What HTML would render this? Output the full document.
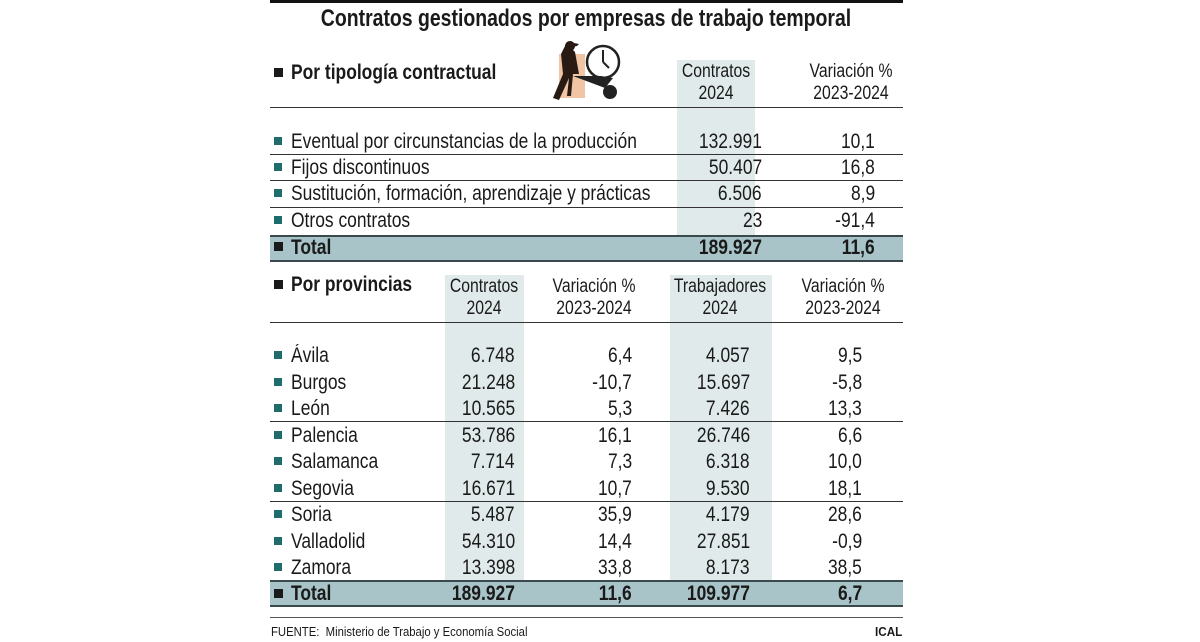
<!DOCTYPE html>
<html><head><meta charset="utf-8"><style>
body{margin:0;background:#fff;width:1200px;height:642px;position:relative;overflow:hidden;font-family:"Liberation Sans",Arial,sans-serif;color:#1a1a1a}
.t{position:absolute;white-space:nowrap;line-height:1;font-size:21px}
.l{transform-origin:left center;transform:scaleX(.83)}
.r{transform-origin:right center;transform:scaleX(.83)}
.c{transform:translateX(-50%) scaleX(.83)}
.b{font-weight:bold}
.box{position:absolute}
.sq{position:absolute;width:8px;height:8px;background:#1f6c6c}
.sqb{position:absolute;width:9px;height:9px;background:#1a1a1a}
</style></head><body>
<div class="box" style="left:270px;top:0;width:633px;height:3px;background:#111"></div>
<div class="t b" style="left:586px;top:7px;font-size:24px;transform:translateX(-50%) scaleX(.81)">Contratos gestionados por empresas de trabajo temporal</div>

<div class="box" style="left:677px;top:60px;width:78px;height:175px;background:#e0eaea"></div>
<div class="box" style="left:270px;top:235px;width:633px;height:27px;background:#a8c4c8;border-top:2px solid #3a4a4c;border-bottom:2px solid #3a4a4c;box-sizing:border-box"></div>
<div class="box" style="left:270px;top:107px;width:633px;height:1px;background:#333"></div>
<div class="box" style="left:270px;top:154px;width:633px;height:1px;background:#333"></div>
<div class="box" style="left:270px;top:180px;width:633px;height:1px;background:#333"></div>
<div class="box" style="left:270px;top:207px;width:633px;height:1px;background:#333"></div>

<svg class="box" style="left:545px;top:38px" width="85" height="66" viewBox="0 0 85 66">
<rect x="14" y="16" width="26" height="44" fill="#f0c4a4"/>
<circle cx="58" cy="24" r="16" fill="#fff" stroke="#222" stroke-width="2.5"/>
<line x1="58" y1="24" x2="58" y2="12" stroke="#222" stroke-width="2"/>
<line x1="58" y1="24" x2="64" y2="30" stroke="#222" stroke-width="2"/>
<circle cx="65" cy="54" r="7" fill="#222"/>
<path d="M28 38 L60 50 L68 40 L56 38 Z" fill="#222"/>
<path d="M20 8 a5 5 0 1 1 8 4 L30 14 L34 36 L28 36 L26 58 L22 58 L24 40 L14 62 L8 60 L18 36 L16 16 Z" fill="#2a1a14"/>
<path d="M22 10 L32 8 L34 6 L24 4 Z" fill="#2a1a14"/>
</svg>

<div class="sqb" style="left:274px;top:68px"></div>
<div class="t b l" style="left:291px;top:62px;font-size:21px">Por tipología contractual</div>
<div class="t c" style="left:716px;top:62px;font-size:19px">Contratos</div>
<div class="t c" style="left:716px;top:84px;font-size:19px">2024</div>
<div class="t c" style="left:851px;top:62px;font-size:19px">Variación %</div>
<div class="t c" style="left:851px;top:84px;font-size:19px">2023-2024</div>

<div class="sq" style="left:274px;top:137px"></div><div class="t l" style="left:291px;top:131px">Eventual por circunstancias de la producción</div>
<div class="t r" style="right:438px;top:131px">132.991</div><div class="t r" style="right:325px;top:131px">10,1</div>
<div class="sq" style="left:274px;top:163px"></div><div class="t l" style="left:291px;top:157px">Fijos discontinuos</div>
<div class="t r" style="right:438px;top:157px">50.407</div><div class="t r" style="right:325px;top:157px">16,8</div>
<div class="sq" style="left:274px;top:189px"></div><div class="t l" style="left:291px;top:183px">Sustitución, formación, aprendizaje y prácticas</div>
<div class="t r" style="right:438px;top:183px">6.506</div><div class="t r" style="right:325px;top:183px">8,9</div>
<div class="sq" style="left:274px;top:216px"></div><div class="t l" style="left:291px;top:210px">Otros contratos</div>
<div class="t r" style="right:438px;top:210px">23</div><div class="t r" style="right:325px;top:210px">-91,4</div>
<div class="sqb" style="left:274px;top:242px"></div><div class="t b l" style="left:291px;top:237px">Total</div>
<div class="t b r" style="right:438px;top:237px">189.927</div><div class="t b r" style="right:325px;top:237px">11,6</div>

<div class="box" style="left:445px;top:275px;width:79px;height:305px;background:#e0eaea"></div>
<div class="box" style="left:670px;top:275px;width:102px;height:305px;background:#e0eaea"></div>
<div class="box" style="left:270px;top:580px;width:633px;height:27px;background:#a8c4c8;border-top:2px solid #3a4a4c;border-bottom:2px solid #3a4a4c;box-sizing:border-box"></div>
<div class="box" style="left:270px;top:322px;width:633px;height:1px;background:#333"></div>
<div class="box" style="left:270px;top:421px;width:633px;height:1px;background:#333"></div>
<div class="box" style="left:270px;top:501px;width:633px;height:1px;background:#333"></div>
<div class="box" style="left:270px;top:617px;width:633px;height:1px;background:#555"></div>

<div class="sqb" style="left:274px;top:280px"></div>
<div class="t b l" style="left:291px;top:274px">Por provincias</div>
<div class="t c" style="left:484px;top:277px;font-size:19px">Contratos</div>
<div class="t c" style="left:484px;top:299px;font-size:19px">2024</div>
<div class="t c" style="left:594px;top:277px;font-size:19px">Variación %</div>
<div class="t c" style="left:594px;top:299px;font-size:19px">2023-2024</div>
<div class="t c" style="left:720px;top:277px;font-size:19px">Trabajadores</div>
<div class="t c" style="left:720px;top:299px;font-size:19px">2024</div>
<div class="t c" style="left:843px;top:277px;font-size:19px">Variación %</div>
<div class="t c" style="left:843px;top:299px;font-size:19px">2023-2024</div>

<div class="sq" style="left:274px;top:351px"></div><div class="t l" style="left:291px;top:345px">Ávila</div>
<div class="t r" style="right:685px;top:345px">6.748</div><div class="t r" style="right:568px;top:345px">6,4</div><div class="t r" style="right:450px;top:345px">4.057</div><div class="t r" style="right:338px;top:345px">9,5</div>
<div class="sq" style="left:274px;top:378px"></div><div class="t l" style="left:291px;top:372px">Burgos</div>
<div class="t r" style="right:685px;top:372px">21.248</div><div class="t r" style="right:568px;top:372px">-10,7</div><div class="t r" style="right:450px;top:372px">15.697</div><div class="t r" style="right:338px;top:372px">-5,8</div>
<div class="sq" style="left:274px;top:404px"></div><div class="t l" style="left:291px;top:398px">León</div>
<div class="t r" style="right:685px;top:398px">10.565</div><div class="t r" style="right:568px;top:398px">5,3</div><div class="t r" style="right:450px;top:398px">7.426</div><div class="t r" style="right:338px;top:398px">13,3</div>
<div class="sq" style="left:274px;top:431px"></div><div class="t l" style="left:291px;top:425px">Palencia</div>
<div class="t r" style="right:685px;top:425px">53.786</div><div class="t r" style="right:568px;top:425px">16,1</div><div class="t r" style="right:450px;top:425px">26.746</div><div class="t r" style="right:338px;top:425px">6,6</div>
<div class="sq" style="left:274px;top:457px"></div><div class="t l" style="left:291px;top:451px">Salamanca</div>
<div class="t r" style="right:685px;top:451px">7.714</div><div class="t r" style="right:568px;top:451px">7,3</div><div class="t r" style="right:450px;top:451px">6.318</div><div class="t r" style="right:338px;top:451px">10,0</div>
<div class="sq" style="left:274px;top:484px"></div><div class="t l" style="left:291px;top:478px">Segovia</div>
<div class="t r" style="right:685px;top:478px">16.671</div><div class="t r" style="right:568px;top:478px">10,7</div><div class="t r" style="right:450px;top:478px">9.530</div><div class="t r" style="right:338px;top:478px">18,1</div>
<div class="sq" style="left:274px;top:510px"></div><div class="t l" style="left:291px;top:504px">Soria</div>
<div class="t r" style="right:685px;top:504px">5.487</div><div class="t r" style="right:568px;top:504px">35,9</div><div class="t r" style="right:450px;top:504px">4.179</div><div class="t r" style="right:338px;top:504px">28,6</div>
<div class="sq" style="left:274px;top:537px"></div><div class="t l" style="left:291px;top:531px">Valladolid</div>
<div class="t r" style="right:685px;top:531px">54.310</div><div class="t r" style="right:568px;top:531px">14,4</div><div class="t r" style="right:450px;top:531px">27.851</div><div class="t r" style="right:338px;top:531px">-0,9</div>
<div class="sq" style="left:274px;top:563px"></div><div class="t l" style="left:291px;top:557px">Zamora</div>
<div class="t r" style="right:685px;top:557px">13.398</div><div class="t r" style="right:568px;top:557px">33,8</div><div class="t r" style="right:450px;top:557px">8.173</div><div class="t r" style="right:338px;top:557px">38,5</div>
<div class="sqb" style="left:274px;top:589px"></div><div class="t b l" style="left:291px;top:583px">Total</div>
<div class="t b r" style="right:685px;top:583px">189.927</div><div class="t b r" style="right:568px;top:583px">11,6</div><div class="t b r" style="right:450px;top:583px">109.977</div><div class="t b r" style="right:338px;top:583px">6,7</div>

<div class="t l" style="left:271px;top:625px;font-size:13px;transform:scaleX(.87)">FUENTE:&nbsp; Ministerio de Trabajo y Economía Social</div>
<div class="t b r" style="right:298px;top:625px;font-size:13px;transform:scaleX(.9)">ICAL</div>
</body></html>
